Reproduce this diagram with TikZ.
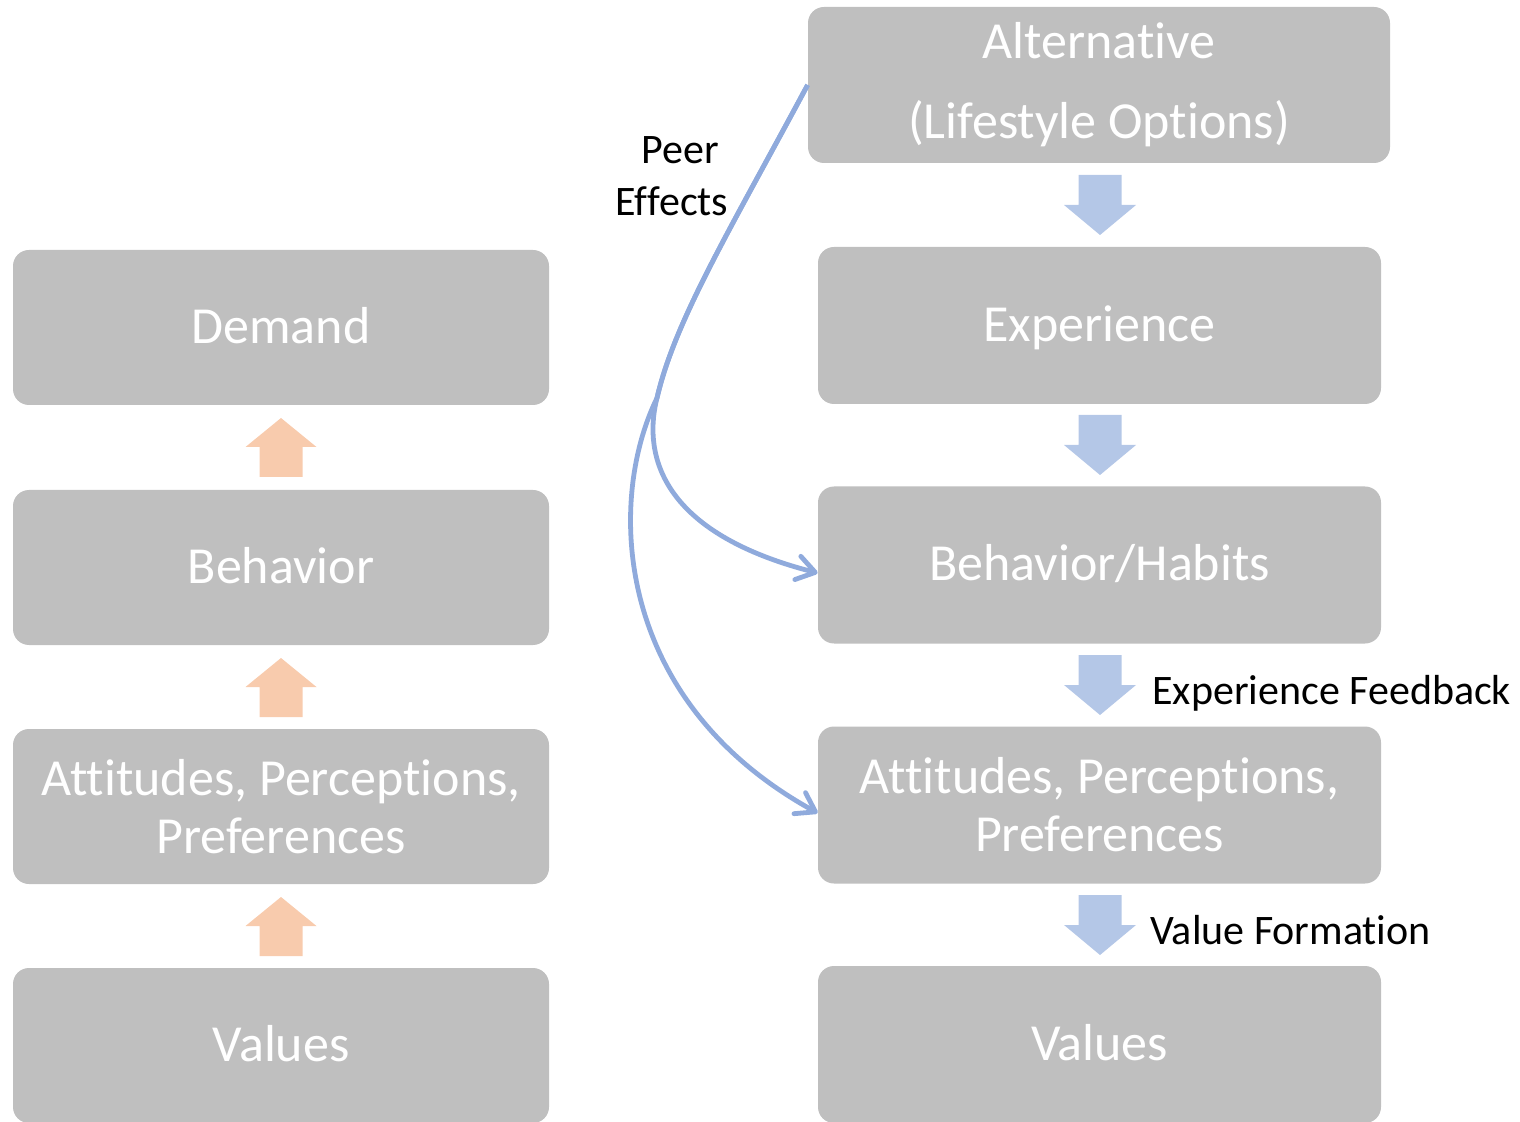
\documentclass[tikz,border=0pt]{standalone}
\usepackage{fontspec}
\setmainfont{Carlito}[Ligatures=NoCommon]
\usetikzlibrary{arrows.meta,calc}
\definecolor{boxgray}{HTML}{BFBFBF}
\definecolor{uporange}{HTML}{F8CBAD}
\definecolor{downblue}{HTML}{B4C7E7}
\definecolor{curveblue}{HTML}{8FAADC}
\begin{document}
\begin{tikzpicture}[x=0.5pt,y=-0.5pt,
  box/.style={fill=boxgray, rounded corners=8pt, text=white, font=\fontsize{26}{29}\selectfont, inner sep=0pt, align=center},
  leftbox/.style={box, minimum width=268pt, minimum height=77.5pt},
  rightbox/.style={box, minimum width=281.5pt, minimum height=78.5pt},
  oneline/.style={text height=20pt, text depth=4pt},
  lbl/.style={font=\fontsize{21}{26}\selectfont, inner sep=0pt},
  flow/.style={draw=curveblue, line width=2.4pt, -{Straight Barb[length=9pt,width=12pt,round]}},
  uparr/.pic={\fill[uporange] (0,0) -- (35.5,29) -- (21.5,29) -- (21.5,59) -- (-21.5,59) -- (-21.5,29) -- (-35.5,29) -- cycle;},
  downarr/.pic={\fill[downblue] (-21.5,0) -- (21.5,0) -- (21.5,30) -- (36,30) -- (0,60) -- (-36,30) -- (-21.5,30) -- cycle;}
]
\useasboundingbox (0,0) rectangle (1520,1122);

% left column
\node[leftbox, oneline] (dem) at (281,327.5) {Demand};
\node[leftbox, oneline] (lbeh) at (281,567.5) {Behavior};
\node[leftbox] (lap) at (281,806.5) {Attitudes, Perceptions,\\Preferences};
\node[leftbox, oneline] (lval) at (281,1045.5) {Values};

\pic at (281,418) {uparr};
\pic at (281,658) {uparr};
\pic at (281,897) {uparr};

% right column
\node[box, minimum width=291pt, minimum height=78pt, font=\fontsize{26}{40}\selectfont] (alt) at (1099,85) {Alternative\\(Lifestyle Options)};
\node[rightbox, oneline] (exp) at (1099.5,325.5) {Experience};
\node[rightbox, oneline] (bh) at (1099.5,565) {Behavior/Habits};
\node[rightbox] (ap) at (1099.5,805) {Attitudes, Perceptions,\\Preferences};
\node[rightbox, oneline] (rval) at (1099.5,1044.5) {Values};

\pic at (1100,175) {downarr};
\pic at (1100,415) {downarr};
\pic at (1100,655) {downarr};
\pic at (1100,895) {downarr};

% labels
\node[lbl, anchor=base west] (fb) at (1152,704) {Experience Feedback};
\node[lbl, anchor=base west] (vf) at (1150,944) {Value Formation};
\node[lbl, align=center, anchor=base] (peer) at (672,216) {\hspace*{8pt}Peer\\Effects};

% peer effects curves
\coordinate (split) at (657,398);
\draw[flow] (alt.west) .. controls (730,230) and (675,320) .. (split) .. controls (645,445) and (650,530) .. ($(bh.west)+(0,8)$);
\draw[flow] (alt.west) .. controls (730,230) and (675,320) .. (split) .. controls (607,500) and (612,700) .. ($(ap.west)+(0,8)$);
\end{tikzpicture}
\end{document}
